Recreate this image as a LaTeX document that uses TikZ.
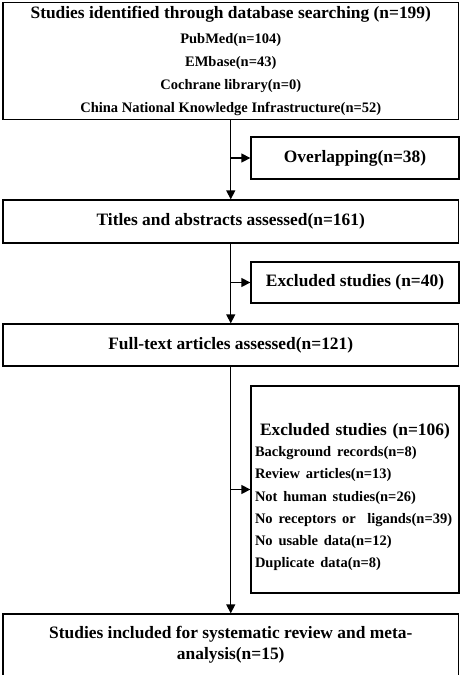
\documentclass[tikz,border=0pt]{standalone}
\usepackage{fontspec}
\setmainfont{Liberation Serif}
\usetikzlibrary{arrows.meta}

\newcommand\listfont{\fontsize{14.5}{22.4}\selectfont}

\tikzset{
  box/.style={draw, line width=1.3pt, inner sep=0pt, align=center,
    font=\bfseries\fontsize{17.4}{22}\selectfont},
  mainbox/.style={box, minimum width=455.5pt},
  sidebox/.style={box, minimum width=208pt},
  flow/.style={line width=1.3pt, -{Triangle[length=9pt,width=9pt]}},
}

\begin{document}
\begin{tikzpicture}[x=1pt,y=-1pt]
    \clip (0,0) rectangle (461,675);

    % Main column of boxes
    \node[mainbox, minimum height=117pt] (search) at (230.75,61)
        {Studies identified through database searching (n=199)\\[3pt]
         \listfont PubMed(n=104)\\[0.8pt]
         \listfont EMbase(n=43)\\[0.8pt]
         \listfont Cochrane library(n=0)\\[0.8pt]
         \listfont China National Knowledge Infrastructure(n=52)};
    \node[mainbox, minimum height=43pt] (titles) at (230.75,221.5)
        {Titles and abstracts assessed(n=161)};
    \node[mainbox, minimum height=42pt] (fulltext) at (230.75,345)
        {Full-text articles assessed(n=121)};
    \node[mainbox, minimum height=62pt] (included) at (230.75,645)
        {Studies included for systematic review and meta-\\[-1pt]
         analysis(n=15)};

    % Boxes on the right
    \node[sidebox, minimum height=42pt] (overlap) at (355,158)
        {Overlapping(n=38)};
    \node[sidebox, minimum height=41pt] (excl40) at (355,282.5)
        {Excluded studies (n=40)};
    \node[sidebox, minimum height=207pt, text width=200pt, inner xsep=4pt,
          align=left] (excl106) at (355,489.5)
        {\makebox[200pt]{\rule{0pt}{28pt}Excluded studies (n=106)}\\[-2pt]
         \listfont Background records(n=8)\\
         Review articles(n=13)\\
         Not human studies(n=26)\\
         No receptors or\ \ ligands(n=39)\\
         No usable data(n=12)\\
         Duplicate data(n=8)};

    % Arrows down the middle
    \draw[flow] (search) -- (titles);
    \draw[flow] (titles) -- (fulltext);
    \draw[flow] (fulltext) -- (included);

    % Arrows to the right
    \draw[flow] (search.south |- overlap.west) -- (overlap.west);
    \draw[flow] (titles.south |- excl40.west) -- (excl40.west);
    \draw[flow] (fulltext.south |- excl106.west) -- (excl106.west);
\end{tikzpicture}
\end{document}
